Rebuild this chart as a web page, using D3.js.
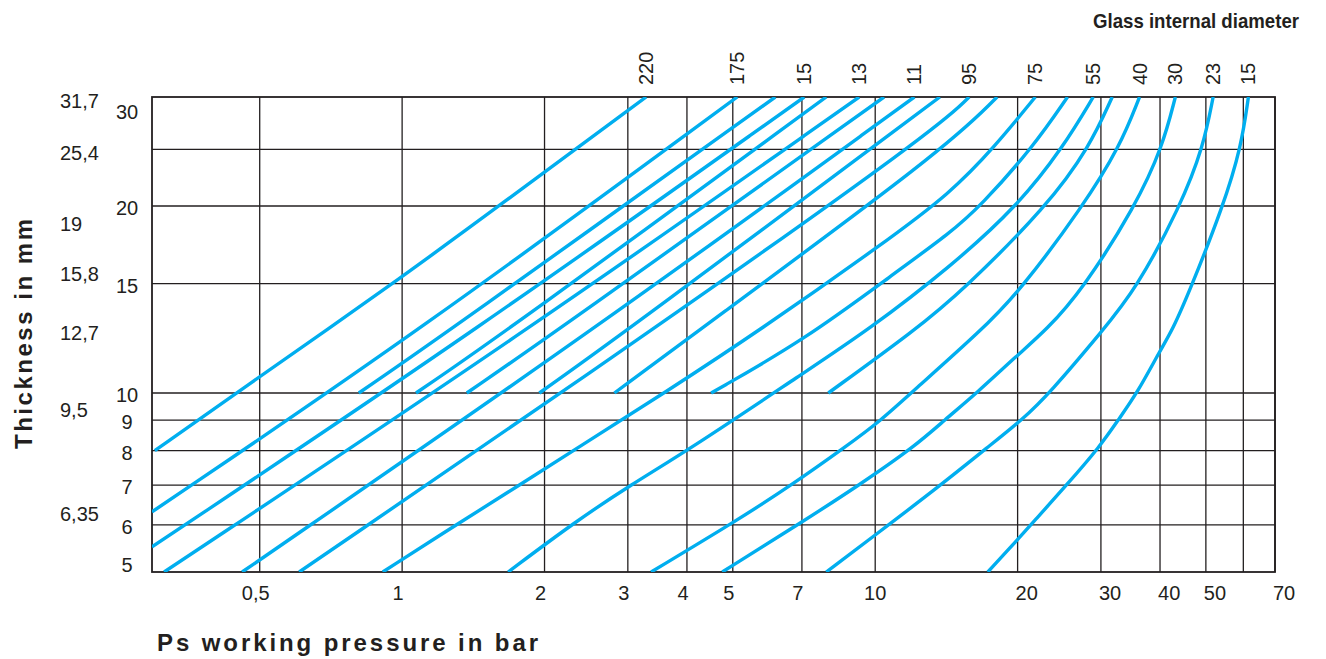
<!DOCTYPE html>
<html><head><meta charset="utf-8">
<script src="https://cdn.jsdelivr.net/npm/d3@7"></script>
<style>
html,body{margin:0;padding:0;background:#fff;}
text{font-family:"Liberation Sans",Arial,sans-serif;fill:#231f20;}
</style></head><body>
<svg id="chart" width="1326" height="659"></svg>
<script>
// ---- axis / tick data ----
const xTickValues = [0.5, 1, 2, 3, 4, 5, 7, 10, 20, 30, 40, 50, 70];
const xTickLabels = ["0,5", "1", "2", "3", "4", "5", "7", "10", "20", "30", "40", "50", "70"];
const xGridValues = [0.5, 1, 2, 3, 4, 5, 7, 10, 20, 30, 40, 50, 60, 70];
const yGridValues = [6, 7, 8, 9, 10, 15, 20, 25.4];
const yTickValues = [5, 6, 7, 8, 9, 10, 15, 20, 30];
const yTickLabels = ["5", "6", "7", "8", "9", "10", "15", "20", "30"];
const yInchValues = [31.7, 25.4, 19, 15.8, 12.7, 9.5, 6.35];
const yInchLabels = ["31,7", "25,4", "19", "15,8", "12,7", "9,5", "6,35"];
const diameterLabels = ["220", "175", "15", "13", "11", "95", "75", "55", "40", "30", "23", "15"];

// ---- curves: [pressure bar, thickness mm] ----
const c220 = [[0.30, 8.0], [0.446, 10], [0.97, 15.1], [1.60, 20], [3.28, 31.7]];
const c175 = [[0.296, 6.31], [1.09, 12.6], [5.11, 31.7]];
const s1   = [[0.81, 10], [1.26, 12.6], [6.15, 31.7]];
const c150 = [[0.296, 5.51], [1.43, 12.6], [7.08, 31.7]];
const s2   = [[1.07, 10], [1.67, 12.6], [7.88, 31.7]];
const c130 = [[0.314, 5], [1.84, 12.6], [9.25, 31.7]];
const s3   = [[1.37, 10], [2.13, 12.6], [10.44, 31.7]];
const c110 = [[0.459, 5], [2.53, 12.6], [12.1, 31.7]];
const s4   = [[1.95, 10], [2.99, 12.6], [13.7, 31.7]];
const c95  = [[0.606, 5], [3.38, 12.6], [13.4, 27.6], [15.8, 31.7]];
const s5   = [[2.81, 10], [4.23, 12.6], [14.0, 25.4], [18.1, 31.7]];
const c75  = [[0.91, 5], [1.33, 6.07], [1.76, 6.98], [2.38, 8.14], [3.58, 10], [5.69, 12.6], [10.5, 17.5], [14.4, 21.1], [17.9, 25.7], [21.8, 31.7]];
const s6   = [[4.50, 10], [7.08, 12.17], [11.0, 15.6], [14.4, 18.1], [16.7, 20], [21.6, 25.7], [25.5, 31.7]];
const c55  = [[1.675, 5], [2.32, 6.07], [3.02, 6.98], [4.15, 8.14], [7.05, 10.77], [9.67, 12.63], [14.4, 15.95], [20.0, 20], [25.0, 25.7], [28.9, 31.7]];
const s7   = [[7.96, 10], [12.15, 12.63], [15.35, 14.65], [23.1, 20], [28.4, 25.7], [31.7, 31.7]];
const c40  = [[3.36, 5], [5.11, 6.11], [6.62, 6.98], [8.7, 8.14], [10.3, 9.0], [11.9, 10], [16.8, 12.63], [20.3, 14.65], [27.5, 20], [32.9, 25.7], [36.2, 31.7]];
const c30  = [[4.75, 5], [7.01, 6.07], [9.2, 6.98], [12.15, 8.14], [14.0, 9.0], [16.4, 10], [19.96, 11.5], [23.0, 12.63], [27.4, 14.65], [35.5, 20], [40.5, 25.7], [43.1, 31.7]];
const c23  = [[7.88, 5], [10.0, 5.77], [13.7, 6.98], [17.4, 8.14], [20.4, 9.0], [23.4, 10], [30.3, 12.63], [35.5, 14.65], [44.2, 20], [49.4, 25.7], [51.8, 31.7]];
const c15  = [[17.3, 5], [19.96, 5.66], [21.6, 6.07], [25.3, 6.98], [29.9, 8.14], [32.6, 9.0], [35.8, 10], [40.0, 11.7], [42.5, 12.63], [46.3, 14.65], [54.4, 20], [59.4, 25.7], [61.5, 31.7]];

const labelledCurves = [c220, c175, c150, c130, c110, c95, c75, c55, c40, c30, c23, c15];
const shortCurves = [s1, s2, s3, s4, s5, s6, s7];

// ---- layout ----
const L = 152, R = 1275, T = 97, B = 572;
const ink = "#231f20", blue = "#00aeef";

const x = d3.scaleLog().domain([0.296, 70]).range([L, R]);
const y = d3.scaleLog().domain([5, 10, 20, 31.7]).range([B, 393, 206, T]);

const svg = d3.select("#chart");

svg.append("defs").append("clipPath").attr("id", "plotclip")
  .append("rect").attr("x", L).attr("y", T).attr("width", R - L).attr("height", B - T);

// grid
const grid = svg.append("g").attr("stroke", ink).attr("stroke-width", 1.3);
grid.selectAll("line.v").data(xGridValues).join("line").attr("class", "v")
  .attr("x1", d => x(d)).attr("x2", d => x(d)).attr("y1", T).attr("y2", B);
grid.selectAll("line.h").data(yGridValues).join("line").attr("class", "h")
  .attr("y1", d => y(d)).attr("y2", d => y(d)).attr("x1", L).attr("x2", R);
svg.append("rect").attr("x", L).attr("y", T).attr("width", R - L).attr("height", B - T)
  .attr("fill", "none").attr("stroke", ink).attr("stroke-width", 1.8);

// curves
const line = d3.line().x(d => x(d[0])).y(d => y(d[1])).curve(d3.curveBasis);
const cg = svg.append("g").attr("clip-path", "url(#plotclip)")
  .attr("fill", "none").attr("stroke", blue).attr("stroke-width", 3.4);
cg.selectAll("path").data(labelledCurves.concat(shortCurves)).join("path").attr("d", line);

// x tick labels
svg.append("g").selectAll("text").data(xTickValues).join("text")
  .attr("x", d => d >= 20 ? x(d) - 2 : (d < 10 ? x(d) - 4 : x(d)))
  .attr("y", 600)
  .attr("text-anchor", d => d >= 20 ? "start" : "middle")
  .attr("font-size", 20)
  .text((d, i) => xTickLabels[i]);

// y tick labels (mm)
svg.append("g").selectAll("text").data(yTickValues).join("text")
  .attr("x", 127)
  .attr("y", d => Math.min(y(d) + 2, 565))
  .attr("dy", "0.35em")
  .attr("text-anchor", "middle")
  .attr("font-size", 20)
  .text((d, i) => yTickLabels[i]);

// inch-equivalent labels
svg.append("g").selectAll("text").data(yInchValues).join("text")
  .attr("x", 60)
  .attr("y", d => y(d) + 4)
  .attr("dy", "0.35em")
  .attr("text-anchor", "start")
  .attr("font-size", 20)
  .text((d, i) => yInchLabels[i]);

// diameter labels at top of curves
svg.append("g").selectAll("text").data(labelledCurves).join("text")
  .attr("transform", d => `translate(${x(d[d.length - 1][0])},85) rotate(-90)`)
  .attr("dy", "0.35em")
  .attr("text-anchor", "start")
  .attr("font-size", 20)
  .text((d, i) => diameterLabels[i]);

// titles
svg.append("text").attr("x", 1093).attr("y", 28)
  .attr("font-size", 20.5).attr("font-weight", "bold")
  .attr("textLength", 206).attr("lengthAdjust", "spacingAndGlyphs")
  .text("Glass internal diameter");

svg.append("text").attr("transform", "translate(32,334) rotate(-90)")
  .attr("text-anchor", "middle")
  .attr("font-size", 24).attr("font-weight", "bold")
  .attr("textLength", 230).attr("lengthAdjust", "spacing")
  .text("Thickness in mm");

svg.append("text").attr("x", 157).attr("y", 651)
  .attr("font-size", 24).attr("font-weight", "bold")
  .attr("textLength", 381).attr("lengthAdjust", "spacing")
  .text("Ps working pressure in bar");
</script>
</body></html>
